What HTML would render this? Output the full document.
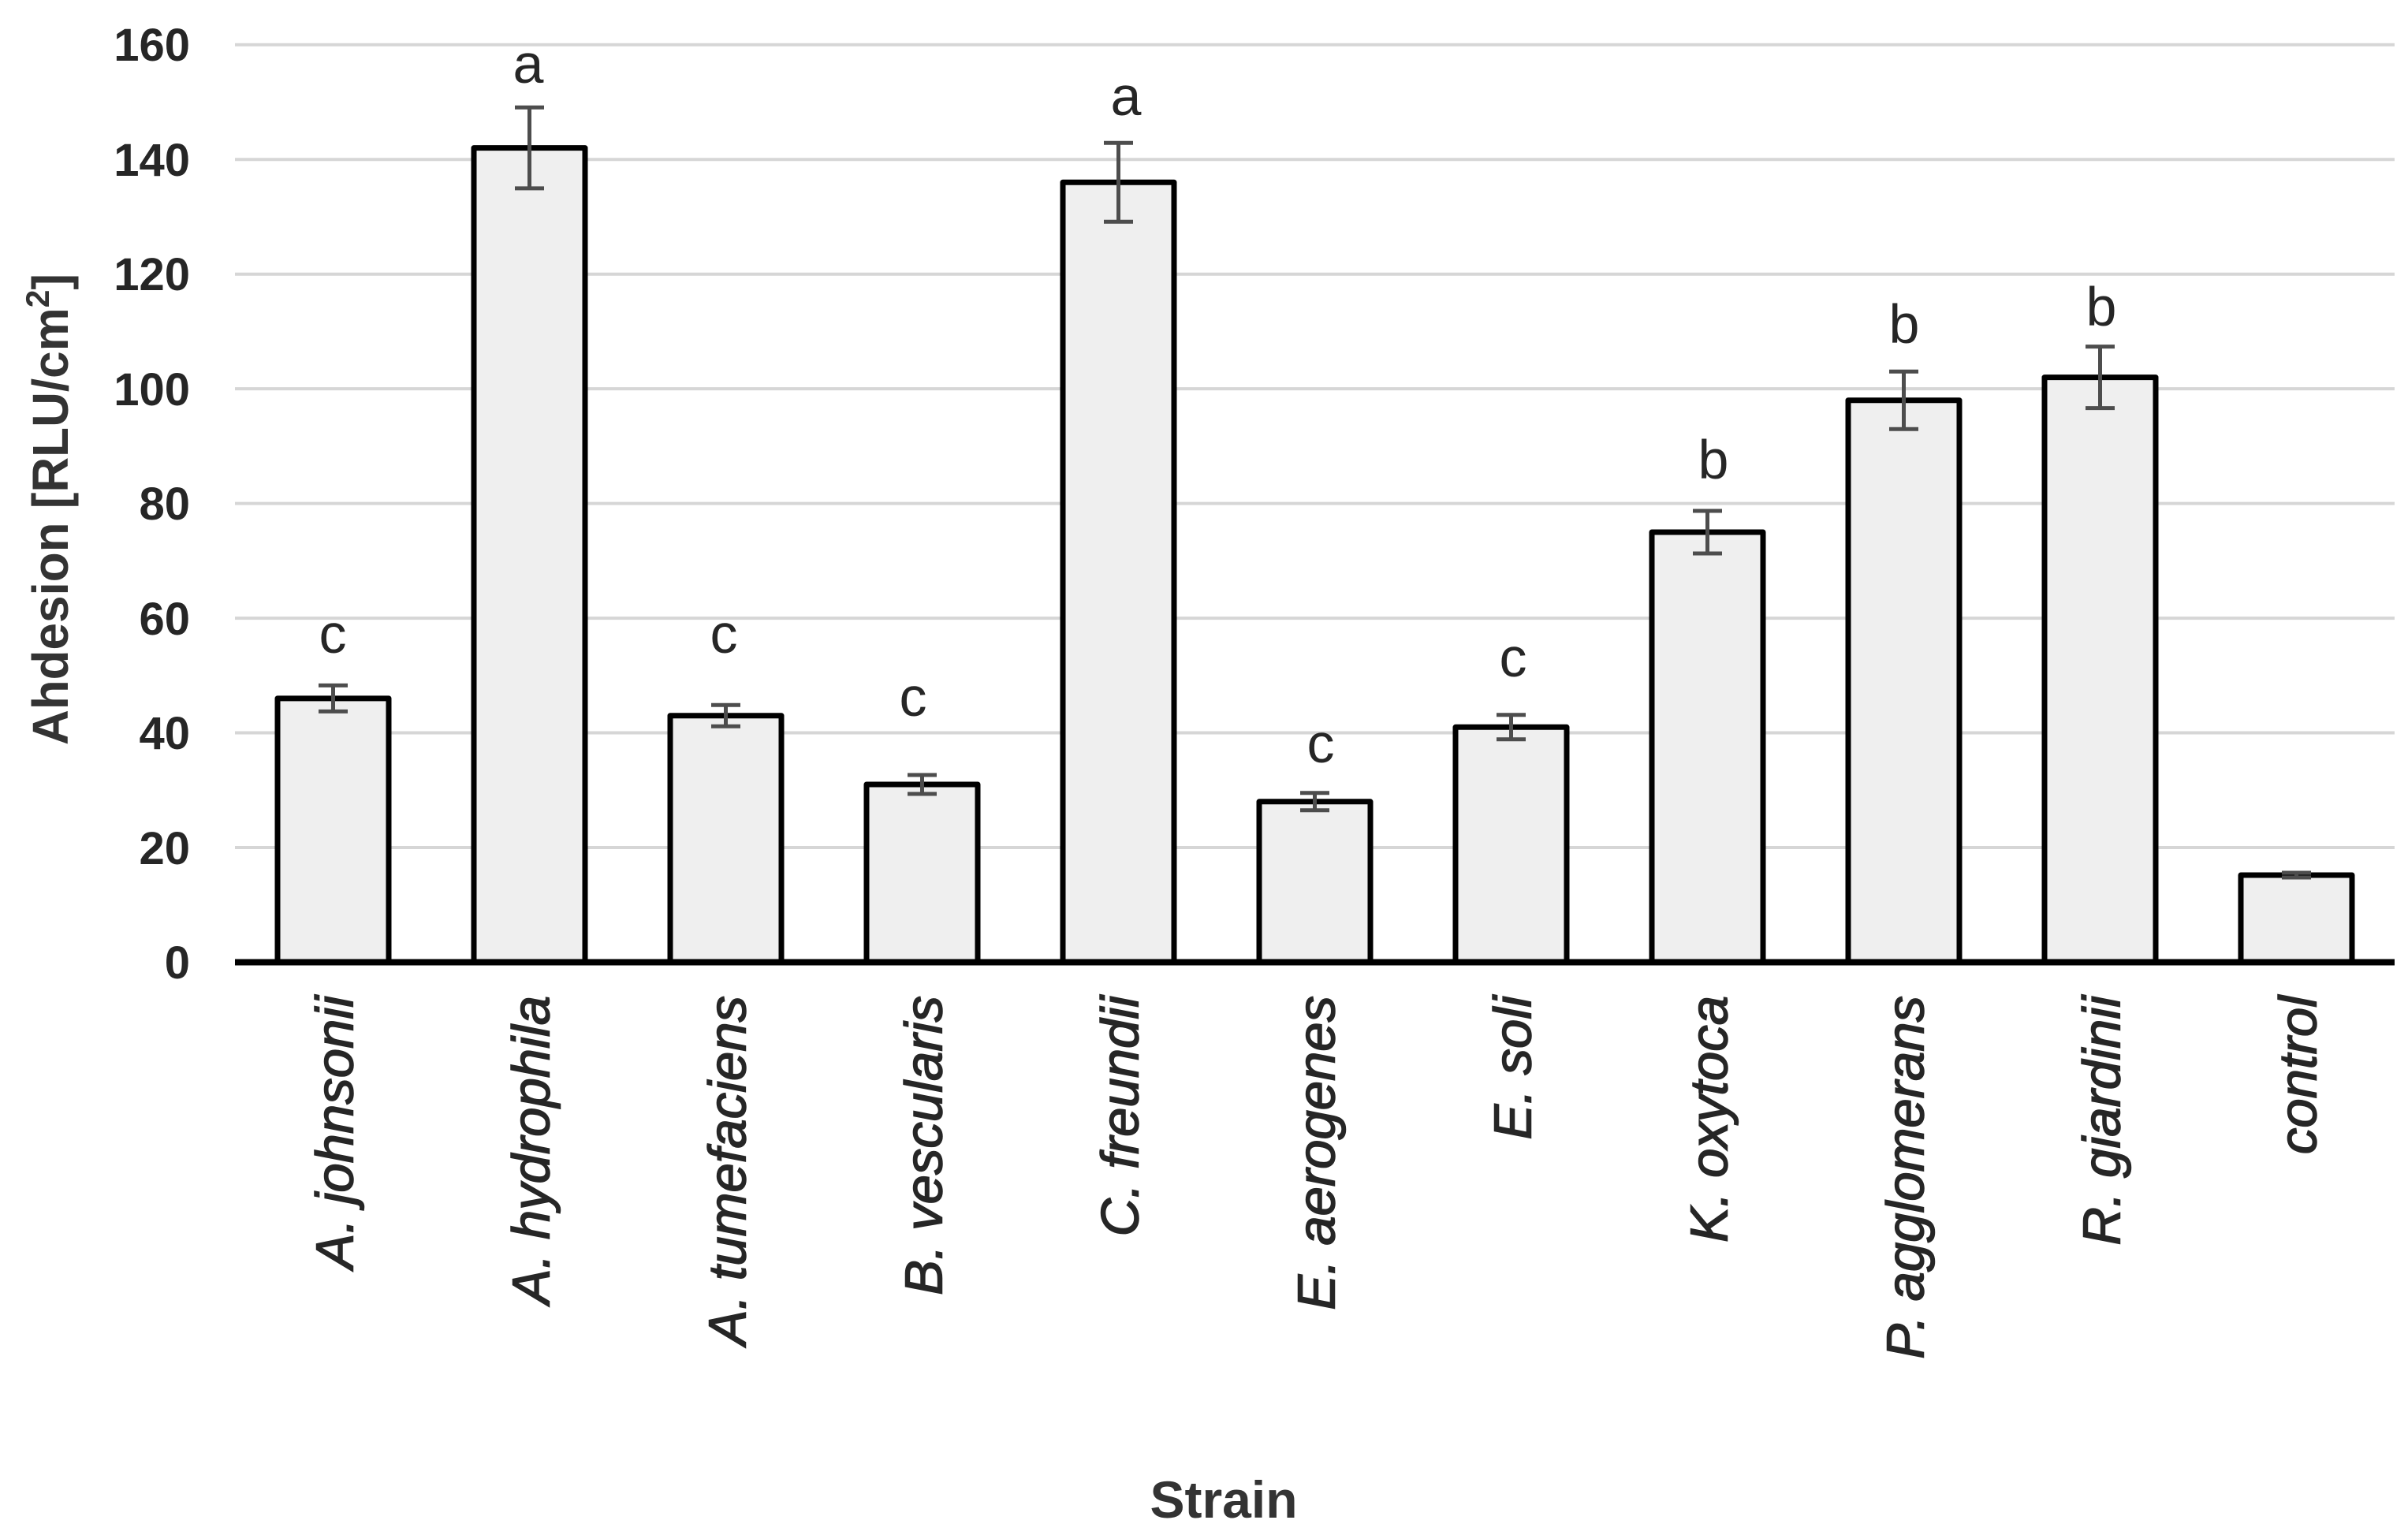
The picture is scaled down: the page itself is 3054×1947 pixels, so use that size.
<!DOCTYPE html>
<html>
<head>
<meta charset="utf-8">
<style>
  html, body { margin: 0; padding: 0; background: #ffffff; }
  svg { display: block; }
</style>
</head>
<body>
<svg width="3054" height="1947" viewBox="0 0 3054 1947" xmlns="http://www.w3.org/2000/svg">
  <rect x="0" y="0" width="3054" height="1947" fill="#ffffff"/>

  <g stroke="#d6d6d6" stroke-width="4">
    <line x1="298" y1="56.7" x2="3037" y2="56.7"/>
    <line x1="298" y1="202.2" x2="3037" y2="202.2"/>
    <line x1="298" y1="347.7" x2="3037" y2="347.7"/>
    <line x1="298" y1="493.1" x2="3037" y2="493.1"/>
    <line x1="298" y1="638.6" x2="3037" y2="638.6"/>
    <line x1="298" y1="784.1" x2="3037" y2="784.1"/>
    <line x1="298" y1="929.5" x2="3037" y2="929.5"/>
    <line x1="298" y1="1075" x2="3037" y2="1075"/>
  </g>

  <g font-family="Liberation Sans, sans-serif" font-weight="bold" font-size="58" fill="#262626" text-anchor="end">
    <text x="241" y="77">160</text>
    <text x="241" y="223">140</text>
    <text x="241" y="368">120</text>
    <text x="241" y="514">100</text>
    <text x="241" y="659">80</text>
    <text x="241" y="805">60</text>
    <text x="241" y="950">40</text>
    <text x="241" y="1096">20</text>
    <text x="241" y="1241">0</text>
  </g>

  <g fill="#efefef" stroke="#000000" stroke-width="7" stroke-linejoin="round">
    <rect x="352" y="885.9" width="141" height="334.6"/>
    <rect x="601" y="187.6" width="141" height="1032.9"/>
    <rect x="850" y="907.7" width="141" height="312.8"/>
    <rect x="1099" y="995.0" width="141" height="225.5"/>
    <rect x="1348" y="231.2" width="141" height="989.3"/>
    <rect x="1597" y="1016.8" width="141" height="203.7"/>
    <rect x="1846" y="922.3" width="141" height="298.2"/>
    <rect x="2095" y="675.0" width="141" height="545.5"/>
    <rect x="2344" y="507.7" width="141" height="712.8"/>
    <rect x="2593" y="478.6" width="141" height="741.9"/>
    <rect x="2842" y="1110.0" width="141" height="110.5"/>
  </g>

  <line x1="298" y1="1220.5" x2="3037" y2="1220.5" stroke="#000000" stroke-width="8"/>

  <g stroke="#4d4d4d" stroke-width="5" fill="none">
    <line x1="422.5" y1="869.4" x2="422.5" y2="902.4"/>
    <line x1="404" y1="869.4" x2="441" y2="869.4"/>
    <line x1="404" y1="902.4" x2="441" y2="902.4"/>
    <line x1="671.5" y1="136.3" x2="671.5" y2="238.9"/>
    <line x1="653" y1="136.3" x2="690" y2="136.3"/>
    <line x1="653" y1="238.9" x2="690" y2="238.9"/>
    <line x1="920.5" y1="894.2" x2="920.5" y2="921.2"/>
    <line x1="902" y1="894.2" x2="939" y2="894.2"/>
    <line x1="902" y1="921.2" x2="939" y2="921.2"/>
    <line x1="1169.5" y1="983.0" x2="1169.5" y2="1007.0"/>
    <line x1="1151" y1="983.0" x2="1188" y2="983.0"/>
    <line x1="1151" y1="1007.0" x2="1188" y2="1007.0"/>
    <line x1="1418.5" y1="181.2" x2="1418.5" y2="281.2"/>
    <line x1="1400" y1="181.2" x2="1437" y2="181.2"/>
    <line x1="1400" y1="281.2" x2="1437" y2="281.2"/>
    <line x1="1667.5" y1="1005.8" x2="1667.5" y2="1027.8"/>
    <line x1="1649" y1="1005.8" x2="1686" y2="1005.8"/>
    <line x1="1649" y1="1027.8" x2="1686" y2="1027.8"/>
    <line x1="1916.5" y1="906.8" x2="1916.5" y2="937.8"/>
    <line x1="1898" y1="906.8" x2="1935" y2="906.8"/>
    <line x1="1898" y1="937.8" x2="1935" y2="937.8"/>
    <line x1="2165.5" y1="648.0" x2="2165.5" y2="702.0"/>
    <line x1="2147" y1="648.0" x2="2184" y2="648.0"/>
    <line x1="2147" y1="702.0" x2="2184" y2="702.0"/>
    <line x1="2414.5" y1="471.2" x2="2414.5" y2="544.2"/>
    <line x1="2396" y1="471.2" x2="2433" y2="471.2"/>
    <line x1="2396" y1="544.2" x2="2433" y2="544.2"/>
    <line x1="2663.5" y1="439.6" x2="2663.5" y2="517.6"/>
    <line x1="2645" y1="439.6" x2="2682" y2="439.6"/>
    <line x1="2645" y1="517.6" x2="2682" y2="517.6"/>
    <line x1="2912.5" y1="1107" x2="2912.5" y2="1113"/>
    <line x1="2894" y1="1107" x2="2931" y2="1107"/>
    <line x1="2894" y1="1113" x2="2931" y2="1113"/>
  </g>

  <g font-family="Liberation Sans, sans-serif" font-size="70" fill="#262626" text-anchor="middle">
    <text x="422" y="828">c</text>
    <text x="670" y="105">a</text>
    <text x="918" y="828">c</text>
    <text x="1158" y="908">c</text>
    <text x="1428" y="146">a</text>
    <text x="1675" y="967">c</text>
    <text x="1919" y="858">c</text>
    <text x="2173" y="607">b</text>
    <text x="2415" y="435">b</text>
    <text x="2665" y="413">b</text>
  </g>

  <g font-family="Liberation Sans, sans-serif" font-style="italic" font-size="67" fill="#262626" stroke="#262626" stroke-width="1.5" text-anchor="end">
    <text x="447.5" y="1263" transform="rotate(-90 447.5 1263)">A. johnsonii</text>
    <text x="696.5" y="1263" transform="rotate(-90 696.5 1263)">A. hydrophila</text>
    <text x="945.5" y="1263" transform="rotate(-90 945.5 1263)">A. tumefaciens</text>
    <text x="1194.5" y="1263" transform="rotate(-90 1194.5 1263)">B. vescularis</text>
    <text x="1443.5" y="1263" transform="rotate(-90 1443.5 1263)">C. freundii</text>
    <text x="1692.5" y="1263" transform="rotate(-90 1692.5 1263)">E. aerogenes</text>
    <text x="1941.5" y="1263" transform="rotate(-90 1941.5 1263)">E. soli</text>
    <text x="2190.5" y="1263" transform="rotate(-90 2190.5 1263)">K. oxytoca</text>
    <text x="2439.5" y="1263" transform="rotate(-90 2439.5 1263)">P. agglomerans</text>
    <text x="2688.5" y="1263" transform="rotate(-90 2688.5 1263)">R. giardinii</text>
    <text x="2937.5" y="1263" transform="rotate(-90 2937.5 1263)">control</text>
  </g>

  <text x="86" y="646" transform="rotate(-90 86 646)" font-family="Liberation Sans, sans-serif" font-weight="bold" font-size="64" fill="#333333" text-anchor="middle" textLength="598" lengthAdjust="spacingAndGlyphs">Ahdesion [RLU/cm<tspan font-size="42" dy="-24">2</tspan><tspan dy="24">]</tspan></text>

  <text x="1552" y="1925" font-family="Liberation Sans, sans-serif" font-weight="bold" font-size="66" fill="#333333" text-anchor="middle">Strain</text>
</svg>
</body>
</html>
